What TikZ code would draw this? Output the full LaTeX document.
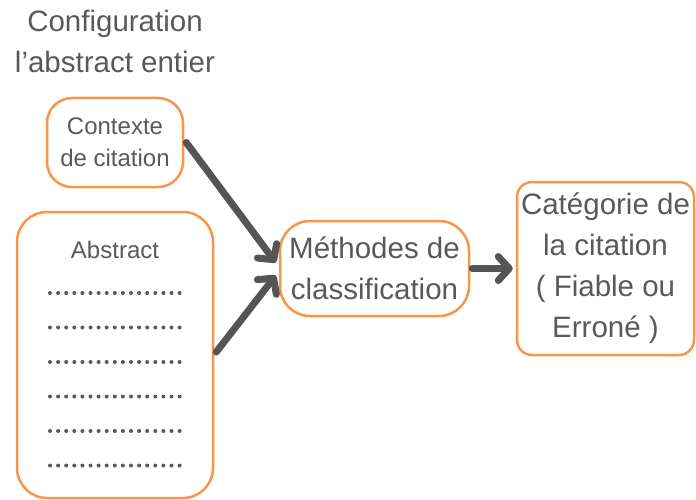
\documentclass[tikz,border=0pt]{standalone}
\usepackage{fontspec}
\setmainfont{Liberation Sans}
\usetikzlibrary{arrows.meta}
\definecolor{boxorange}{RGB}{247,150,75}
\definecolor{inkgray}{RGB}{89,89,89}
\definecolor{arrowgray}{RGB}{85,85,85}
\tikzset{
  box/.style={draw=boxorange, line width=2.5pt, fill=white, inner sep=0pt,
    align=center, text=inkgray},
  smalltext/.style={font=\fontsize{24}{32}\selectfont},
  bigtext/.style={font=\fontsize{29.5}{41}\selectfont},
  flow/.style={draw=arrowgray, line width=7pt, line cap=round,
    -{Straight Barb[length=11pt,width=24pt,round]}},
  dot/.style={fill=inkgray, draw=none}
}
\begin{document}
\begin{tikzpicture}[x=1pt,y=-1pt]
\useasboundingbox (0,0) rectangle (696,500);

% heading
\node (title) [align=center, text=inkgray, bigtext] at (115,41)
  {Configuration\\l’abstract entier};

% input boxes
\node (ctx) [box, smalltext, rounded corners=25pt,
  minimum width=136pt, minimum height=89pt] at (115,142.5)
  {Contexte\\de citation};
\node (abs) [box, rounded corners=30pt,
  minimum width=196pt, minimum height=286pt] at (115,355) {};
\node (abstitle) [text=inkgray, smalltext] at (115,250) {Abstract};

% dotted text lines inside the abstract
\foreach \r in {0,...,5}{
  \foreach \k in {0,...,16}{
    \fill[dot] (50+\k*8.1, 293+\r*34.5) circle (2pt);
  }
}

% classifier and output
\node (meth) [box, bigtext, rounded corners=30pt,
  minimum width=189pt, minimum height=95pt] at (374.5,268.5)
  {Méthodes de\\classification};
\node (cat) [box, bigtext, rounded corners=15pt,
  minimum width=177pt, minimum height=173pt] at (605.5,268.5)
  {Catégorie de\\la citation\\( Fiable ou\\Erroné )};

% connectors
\draw[flow] ([xshift=2pt]ctx.east) -- ([xshift=-3pt,yshift=6pt]meth.west);
\draw[flow] ([xshift=2pt,yshift=3pt]abs.east) -- ([xshift=-3pt,yshift=-7pt]meth.west);
\draw[flow] ([xshift=2pt]meth.east) -- ([xshift=-3pt]cat.west);
\end{tikzpicture}
\end{document}
